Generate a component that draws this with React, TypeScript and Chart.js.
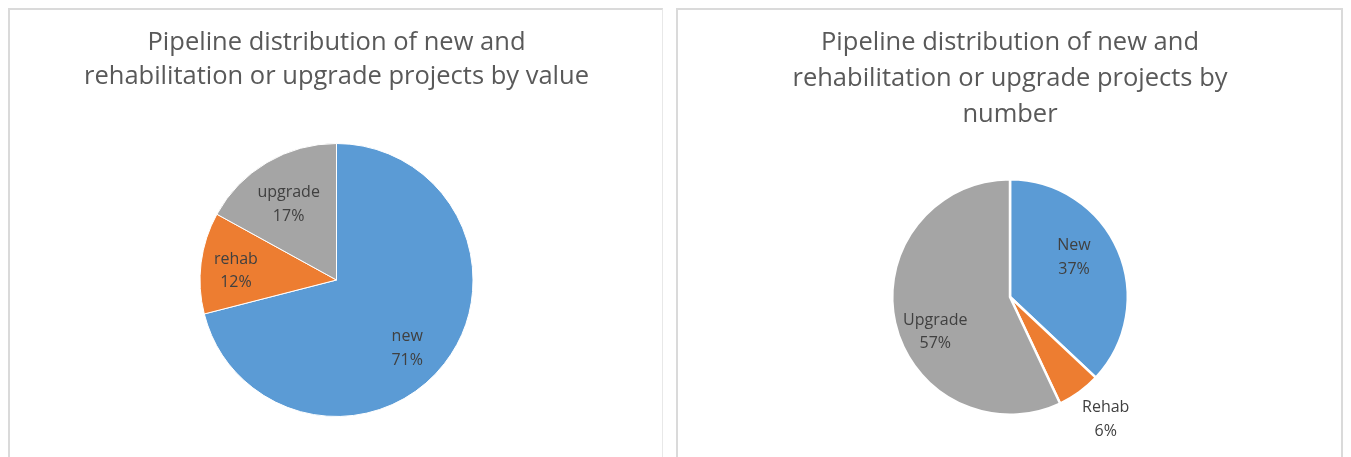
import React, { useEffect, useRef } from "react";
import { Chart, registerables } from "chart.js";

Chart.register(...registerables);

const valueCategories = ["new", "rehab", "upgrade"];
const valueShares = [71, 12, 17];
const valueTitle = ["Pipeline distribution of new and", "rehabilitation or upgrade projects by value"];

const numberCategories = ["New", "Rehab", "Upgrade"];
const numberShares = [37, 6, 57];
const numberTitle = ["Pipeline distribution of new and", "rehabilitation or upgrade projects by", "number"];

const sliceColors = ["#5B9BD5", "#ED7D31", "#A5A5A5"];

const FONT = "'Open Sans', 'Liberation Sans', sans-serif";

const sliceLabels = {
  id: "sliceLabels",
  afterDatasetsDraw(chart: any, _args: any, opts: any) {
    const ctx = chart.ctx;
    const meta = chart.getDatasetMeta(0);
    const data = chart.data.datasets[0].data as number[];
    const total = data.reduce((a, b) => a + b, 0);
    const labels = chart.data.labels as string[];
    ctx.save();
    ctx.fillStyle = "#404040";
    ctx.font = `${opts.size}px ${FONT}`;
    ctx.textAlign = "center";
    ctx.textBaseline = "middle";
    meta.data.forEach((arc: any, i: number) => {
      const p = arc.getProps(["x", "y", "startAngle", "endAngle", "outerRadius"], true);
      const mid = (p.startAngle + p.endAngle) / 2 + (opts.angleShift?.[i] || 0);
      const r = p.outerRadius * opts.radii[i];
      const cx = p.x + Math.cos(mid) * r;
      const cy = p.y + Math.sin(mid) * r;
      const pct = Math.round((data[i] / total) * 100) + "%";
      ctx.fillText(labels[i], cx, cy - opts.gap / 2);
      ctx.fillText(pct, cx, cy + opts.gap / 2);
    });
    ctx.restore();
  },
};

function PieBox(props: {
  labels: string[];
  values: number[];
  title: string[];
  width: number;
  titleTop: number;
  titleBottom: number;
  titleLine: number;
  bottomPad: number;
  borderWidth: number;
  radii: number[];
  angleShift: number[];
  boxStyle: React.CSSProperties;
}) {
  const ref = useRef<HTMLCanvasElement>(null);
  useEffect(() => {
    if (!ref.current) return;
    const chart = new Chart(ref.current, {
      type: "pie",
      data: {
        labels: props.labels,
        datasets: [
          {
            data: props.values,
            backgroundColor: sliceColors,
            borderColor: "#ffffff",
            borderWidth: props.borderWidth,
          },
        ],
      },
      options: {
        responsive: false,
        animation: false,
        layout: { padding: { top: 0, bottom: props.bottomPad, left: 0, right: 0 } },
        plugins: {
          legend: { display: false },
          tooltip: { enabled: false },
          title: {
            display: true,
            text: props.title,
            color: "#595959",
            font: { family: FONT, size: 25.5, weight: "normal", lineHeight: props.titleLine },
            padding: { top: props.titleTop, bottom: props.titleBottom },
          },
          sliceLabels: { size: 16, gap: 23.5, radii: props.radii, angleShift: props.angleShift },
        } as any,
      },
      plugins: [sliceLabels],
    });
    return () => chart.destroy();
  }, []);
  return (
    <div style={{ boxSizing: "border-box", height: 449, overflow: "hidden", ...props.boxStyle }}>
      <canvas ref={ref} width={props.width} height={447} style={{ display: "block", width: props.width, height: 447 }} />
    </div>
  );
}

export default function App() {
  return (
    <div style={{ display: "flex", alignItems: "flex-start", background: "#fff" }}>
      <PieBox
        labels={valueCategories}
        values={valueShares}
        title={valueTitle}
        width={653}
        titleTop={16}
        titleBottom={49}
        titleLine={34 / 25.5}
        bottomPad={40}
        borderWidth={1}
        radii={[0.72, 0.74, 0.656]}
        angleShift={[0.108, -0.037, -0.03]}
        boxStyle={{
          width: 656,
          borderTop: "2px solid #dadada",
          borderLeft: "2px solid #dadada",
          borderRight: "1px solid #e8e8e8",
        }}
      />
      <PieBox
        labels={numberCategories}
        values={numberShares}
        title={numberTitle}
        width={664}
        titleTop={15}
        titleBottom={45}
        titleLine={36 / 25.5}
        bottomPad={41}
        borderWidth={2.5}
        radii={[0.64, 1.32, 0.7]}
        angleShift={[-0.148, -0.035, -0.216]}
        boxStyle={{
          width: 668,
          marginLeft: 13,
          borderTop: "2px solid #dadada",
          borderLeft: "2px solid #dadada",
          borderRight: "2px solid #dadada",
        }}
      />
    </div>
  );
}
